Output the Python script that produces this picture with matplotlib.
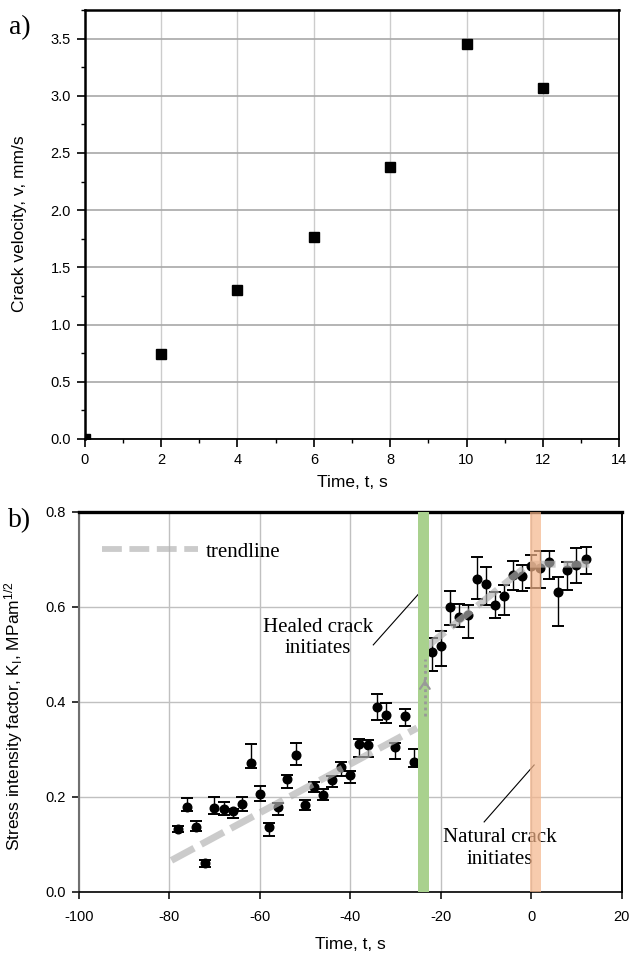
import matplotlib
matplotlib.use("Agg")
import matplotlib.pyplot as plt
from matplotlib.lines import Line2D
from matplotlib.ticker import MultipleLocator

# ---------------- data ----------------
# panel a
t_a = [0, 2, 4, 6, 8, 10, 12]
v_a = [0.0, 0.74, 1.30, 1.77, 2.38, 3.45, 3.07]

# panel b
t_b = [-78, -76, -74, -72, -70, -68, -66, -64, -62, -60, -58, -56, -54, -52, -50,
       -48, -46, -44, -42, -40, -38, -36, -34, -32, -30, -28, -26,
       -22, -20, -18, -16, -14, -12, -10, -8, -6, -4, -2, 0, 2, 4, 6, 8, 10, 12]
K_b = [0.132, 0.179, 0.136, 0.061, 0.176, 0.174, 0.169, 0.185, 0.272, 0.206, 0.137,
       0.179, 0.237, 0.289, 0.183, 0.220, 0.203, 0.235, 0.263, 0.246, 0.311, 0.309,
       0.389, 0.372, 0.304, 0.370, 0.274,
       0.506, 0.518, 0.599, 0.579, 0.584, 0.658, 0.648, 0.604, 0.622, 0.667, 0.666,
       0.687, 0.681, 0.694, 0.632, 0.678, 0.688, 0.702]
K_lo = [0.125, 0.169, 0.128, 0.052, 0.164, 0.161, 0.156, 0.170, 0.260, 0.192, 0.117,
        0.161, 0.218, 0.267, 0.172, 0.209, 0.193, 0.220, 0.243, 0.230, 0.284, 0.284,
        0.362, 0.355, 0.280, 0.350, 0.262,
        0.464, 0.476, 0.561, 0.557, 0.534, 0.616, 0.604, 0.576, 0.583, 0.636, 0.634,
        0.639, 0.639, 0.658, 0.560, 0.636, 0.651, 0.669]
K_hi = [0.139, 0.198, 0.149, 0.066, 0.199, 0.188, 0.175, 0.200, 0.311, 0.223, 0.145,
        0.186, 0.246, 0.313, 0.193, 0.232, 0.216, 0.244, 0.274, 0.254, 0.322, 0.320,
        0.417, 0.398, 0.314, 0.384, 0.300,
        0.534, 0.549, 0.634, 0.606, 0.604, 0.705, 0.685, 0.632, 0.646, 0.697, 0.688,
        0.709, 0.718, 0.718, 0.664, 0.695, 0.724, 0.727]

trend1_t = [-79.5, -25.2]
trend1_K = [0.066, 0.345]
trend2_t = [-23.5, -0.5, 14.1]
trend2_K = [0.513, 0.690, 0.690]

healed_band = (-25.0, -22.6)
natural_band = (-0.3, 2.1)

# ---------------- style ----------------
plt.rcParams['font.family'] = ['Liberation Sans', 'DejaVu Sans']
plt.rcParams['mathtext.default'] = 'regular'
plt.rcParams['axes.unicode_minus'] = False
SERIF = ['Liberation Serif', 'DejaVu Serif']

fig = plt.figure(figsize=(6.29, 9.6), dpi=100)

# ================= panel a =================
ax1 = fig.add_axes([0.13466, 0.54271, 0.84992, 0.44688])
ax1.plot(t_a, v_a, linestyle='none', marker='s', ms=6.8, color='black', zorder=3)
ax1.set_xlim(0, 14)
ax1.set_ylim(0, 3.75)
ax1.xaxis.set_major_locator(MultipleLocator(2))
ax1.xaxis.set_minor_locator(MultipleLocator(1))
ax1.yaxis.set_major_locator(MultipleLocator(0.5))
ax1.yaxis.set_minor_locator(MultipleLocator(0.25))
ax1.yaxis.set_major_formatter(matplotlib.ticker.FormatStrFormatter('%.1f'))
ax1.xaxis.grid(True, which='major', color='#cccccc', lw=1.0)
ax1.yaxis.grid(True, which='major', color='#a8a8a8', lw=1.2)
ax1.set_axisbelow(True)
ax1.tick_params(which='major', direction='out', length=6, width=1.2, labelsize=10.5, pad=4)
ax1.tick_params(which='minor', direction='out', length=3, width=1.0)
for s in ['left', 'top']:
    ax1.spines[s].set_linewidth(1.8)
for s in ['right', 'bottom']:
    ax1.spines[s].set_linewidth(1.3)
ax1.set_xlabel('Time, t, s', fontsize=12.5)
ax1.set_ylabel('Crack velocity, v, mm/s', fontsize=12.5)
ax1.xaxis.set_label_coords(0.5, -0.085)
ax1.yaxis.set_label_coords(-0.108, 0.501)
fig.text(20 / 629, 1 - 27.5 / 960, 'a)', family=SERIF, fontsize=20, ha='center', va='center')

# ================= panel b =================
ax2 = fig.add_axes([0.12512, 0.07115, 0.86328, 0.39552])
ax2.set_xlim(-100, 20)
ax2.set_ylim(0, 0.8)
ax2.xaxis.set_major_locator(MultipleLocator(20))
ax2.yaxis.set_major_locator(MultipleLocator(0.2))
ax2.yaxis.set_major_formatter(matplotlib.ticker.FormatStrFormatter('%.1f'))
ax2.grid(True, color='#c0c0c0', lw=1.0)
ax2.set_axisbelow(True)
ax2.tick_params(which='major', direction='out', length=5, width=1.1, labelsize=10.5)
ax2.tick_params(axis='x', pad=8)
ax2.tick_params(axis='y', pad=4)
ax2.spines['top'].set_linewidth(2.4)
ax2.spines['left'].set_color('#707070')
ax2.spines['left'].set_linewidth(1.5)
ax2.spines['bottom'].set_linewidth(1.2)
ax2.spines['right'].set_linewidth(1.4)

yerr = [[k - lo for k, lo in zip(K_b, K_lo)], [hi - k for k, hi in zip(K_b, K_hi)]]
ax2.errorbar(t_b, K_b, yerr=yerr, fmt='o', ms=6.2, color='black', ecolor='black',
             elinewidth=1.0, capsize=4, capthick=1.4, zorder=3)

trend_kw = dict(color='#b2b2b2', alpha=0.67, lw=5, solid_capstyle='butt',
                dash_capstyle='butt', zorder=4)
ax2.plot(trend1_t, trend1_K, dashes=(3.7, 1.15), **trend_kw)
ax2.plot(trend2_t, trend2_K, dashes=(3.7, 1.15), **trend_kw)

ax2.axvspan(*healed_band, color='#a9d18e', zorder=5, lw=0)
ax2.axvspan(*natural_band, color=(245 / 255, 181 / 255, 138 / 255), alpha=0.7, zorder=5, lw=0)

# dotted arrow (drawn over the green band)
ax2.plot([-23.5, -23.5], [0.37, 0.49], color='#999999', lw=2, linestyle=(0, (1, 1.2)), zorder=6)
ax2.annotate('', xy=(-23.5, 0.452), xytext=(-23.5, 0.44),
             arrowprops=dict(arrowstyle='->,head_length=0.5,head_width=0.35',
                             color='#999999', lw=1.6), zorder=6)

# annotations
ax2.text(-47.2, 0.534, 'Healed crack\ninitiates', family=SERIF, fontsize=15,
         ha='center', va='center', linespacing=1.15, zorder=2)
ax2.plot([-34.9, -23.8], [0.520, 0.639], color='black', lw=0.8, zorder=2)
ax2.text(-7.0, 0.091, 'Natural crack\ninitiates', family=SERIF, fontsize=15,
         ha='center', va='center', linespacing=1.15, zorder=2)
ax2.plot([-10.4, 0.65], [0.147, 0.267], color='black', lw=0.8, zorder=2)

# legend
proxy = Line2D([0], [0], color='#b2b2b2', alpha=0.67, lw=4.2, dashes=(3.4, 1.3),
               dash_capstyle='butt')
ax2.legend([proxy], ['trendline'], loc='center left', bbox_to_anchor=(0.0424, 0.8954),
           frameon=False, borderpad=0, borderaxespad=0, handlelength=4.64,
           handletextpad=0.37, prop={'family': SERIF, 'size': 15})

ax2.set_xlabel('Time, t, s', fontsize=12.5)
ax2.set_ylabel('Stress intensity factor, K$_{I}$, MPam$^{1/2}$', fontsize=12.5)
ax2.xaxis.set_label_coords(0.5, -0.118)
ax2.yaxis.set_label_coords(-0.098, 0.463)
fig.text(20 / 629, 1 - 521 / 960, 'b)', family=SERIF, fontsize=20, ha='center', va='center')

fig.savefig('out.png', dpi=100)
